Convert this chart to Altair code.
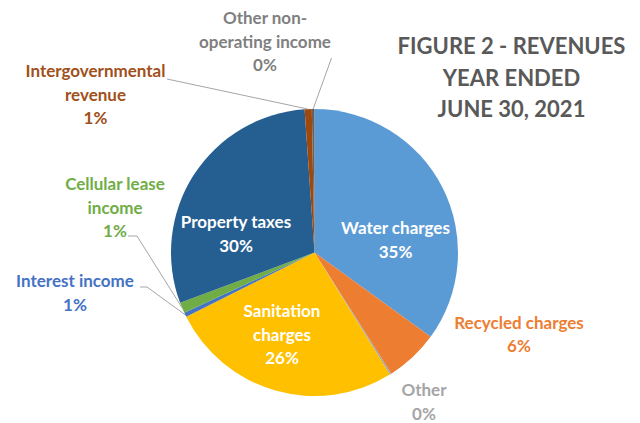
import altair as alt
import numpy as np
import pandas as pd

# ---- data ----
categories = ["Water charges", "Recycled charges", "Other", "Sanitation charges",
              "Interest income", "Cellular lease income", "Property taxes",
              "Intergovernmental revenue", "Other non-operating income"]
values = [35.0, 6.0, 0.2, 26.4, 0.5, 1.2, 29.6, 0.8, 0.3]
pct_labels = ["35%", "6%", "0%", "26%", "1%", "1%", "30%", "1%", "0%"]
label_lines = ["Water charges", "Recycled charges", "Other", "Sanitation\ncharges",
               "Interest income", "Cellular lease\nincome", "Property taxes",
               "Intergovernmental\nrevenue", "Other non-\noperating income"]
title_lines = "FIGURE 2 - REVENUES\nYEAR ENDED\nJUNE 30, 2021"

# ---- styles / layout ----
slice_colors = ["#5B9BD5", "#ED7D31", "#A5A5A5", "#FFC000", "#4472C4",
                "#70AD47", "#255E91", "#9E480E", "#636363"]
text_colors = ["#FFFFFF", "#ED7D31", "#A5A5A5", "#FFFFFF", "#4472C4",
               "#70AD47", "#FFFFFF", "#A0501A", "#7F7F7F"]
M = 8  # page margin
CX, CY, R = 314.5 - M, 252.5 - M, 143.5
# label first-line centres (page coords)
label_pos = [(395.5, 229), (519, 323.5), (424, 391), (282, 312),
             (75, 282), (115, 185), (236, 223), (95.5, 72), (265, 19)]
# leader line label-side anchor points (page coords), with optional elbow
leaders = {
    4: [(140, 287), (147, 287)],
    5: [(128, 236), (137, 236)],
    7: [(167, 79)],
    8: [(331.5, 58)],
}

df = pd.DataFrame({"category": categories, "value": values,
                   "order": list(range(len(values)))})

pie = alt.Chart(df).mark_arc(radius=R).encode(
    theta=alt.Theta("value:Q", stack=True),
    color=alt.Color("category:N", scale=alt.Scale(domain=categories, range=slice_colors), legend=None),
    order=alt.Order("order:Q"),
    x=alt.value(CX), y=alt.value(CY),
)

# leader lines: pie-side end from slice mid-angle
cum = np.cumsum(values)
total = cum[-1]
segs = []
for i, pts in leaders.items():
    mid = (cum[i] - values[i] / 2) / total * 2 * np.pi
    ex, ey = CX + R * np.sin(mid), CY - R * np.cos(mid)
    pts = [(px - M, py - M) for px, py in pts] + [(ex, ey)]
    for (x1, y1), (x2, y2) in zip(pts[:-1], pts[1:]):
        segs.append({"x": x1, "y": y1, "x2": x2, "y2": y2})
seg_df = pd.DataFrame(segs)

rules = alt.Chart(seg_df).mark_rule(color="#A6A6A6", strokeWidth=1).encode(
    x=alt.X("x:Q", scale=None), y=alt.Y("y:Q", scale=None),
    x2="x2:Q", y2="y2:Q",
)

lab_df = pd.DataFrame({
    "text": [l + "\n" + p for l, p in zip(label_lines, pct_labels)],
    "x": [p[0] - M for p in label_pos],
    "y": [p[1] - M for p in label_pos],
    "category": categories,
})
labels = alt.Chart(lab_df).mark_text(
    lineBreak="\n", align="center", baseline="middle", font="Lato",
    fontWeight="bold", fontSize=17, lineHeight=23.5,
).encode(
    x=alt.X("x:Q", scale=None), y=alt.Y("y:Q", scale=None),
    text="text:N",
    color=alt.Color("category:N", scale=alt.Scale(domain=categories, range=text_colors), legend=None),
)

title = alt.Chart(pd.DataFrame({"t": [title_lines]})).mark_text(
    lineBreak="\n", align="center", baseline="middle", font="Lato",
    fontWeight="bold", fontSize=22, lineHeight=31.5, color="#595959",
).encode(x=alt.value(511.5 - M), y=alt.value(47 - M), text="t:N")

chart = alt.layer(pie, rules, labels, title).resolve_scale(color="independent").properties(
    width=624, height=415, autosize=alt.AutoSizeParams(type="none"), padding=0,
).configure_view(stroke=None)

chart.save("out.html", embed_options={"renderer": "svg", "actions": False})
